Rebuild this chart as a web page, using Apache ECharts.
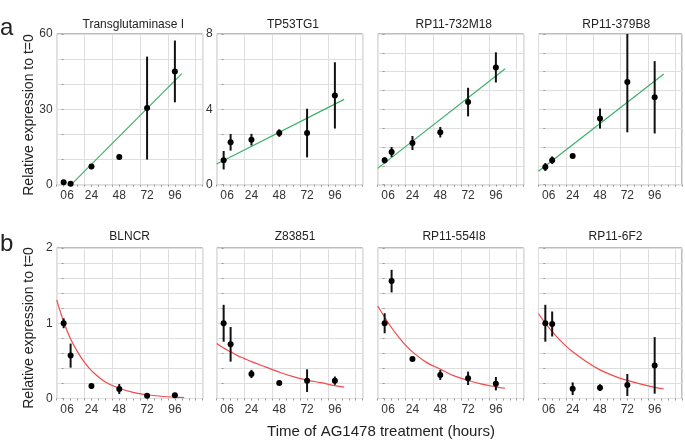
<!DOCTYPE html>
<html><head><meta charset="utf-8">
<script src="https://cdn.jsdelivr.net/npm/echarts@6/dist/echarts.min.js"></script>
<style>html,body{margin:0;padding:0;background:#fff}#c{width:685px;height:443px}</style>
</head><body><div id="c"></div>
<script>
// ---- data ----
const times = [0, 6, 24, 48, 72, 96];
const xTickLabels = [0, 6, 24, 48, 72, 96];
const panelNames = ['Transglutaminase I', 'TP53TG1', 'RP11-732M18', 'RP11-379B8', 'BLNCR', 'Z83851', 'RP11-554I8', 'RP11-6F2'];
const yMax = [60, 8, 6, 8, 2, 2, 2, 2];
const ySections = [6, 6, 8, 8, 10, 10, 10, 10];
const yTickLabels = [[0, 30, 60], [0, 4, 8], [], [], [0, 1, 2], [], [], []];

const meanTransglutaminase = [1.0, 0.4, 7.2, 11.0, 30.5, 45.1];
const errTransglutaminase = [0.4, 0.3, 1.0, 1.0, 20.5, 12.3];
const meanTP53TG1 = [1.30, 2.25, 2.39, 2.74, 2.74, 4.74];
const errTP53TG1 = [0.49, 0.44, 0.31, 0.20, 1.29, 1.76];
const meanRP11_732M18 = [0.97, 1.30, 1.66, 2.09, 3.29, 4.67];
const errRP11_732M18 = [0.12, 0.20, 0.28, 0.21, 0.57, 0.60];
const meanRP11_379B8 = [0.94, 1.30, 1.52, 3.52, 5.45, 4.64];
const errRP11_379B8 = [0.21, 0.20, 0.05, 0.53, 2.67, 1.92];

const meanBLNCR = [1.0, 0.57, 0.166, 0.126, 0.037, 0.042];
const errBLNCR = [0.066, 0.16, 0.037, 0.066, 0.033, 0.02];
const meanZ83851 = [1.0, 0.72, 0.326, 0.206, 0.237, 0.237];
const errZ83851 = [0.245, 0.23, 0.055, 0.01, 0.15, 0.055];
const meanRP11_554I8 = [1.0, 1.56, 0.525, 0.312, 0.268, 0.197];
const errRP11_554I8 = [0.133, 0.15, 0.02, 0.066, 0.089, 0.089];
const meanRP11_6F2 = [1.0, 0.99, 0.13, 0.144, 0.18, 0.44];
const errRP11_6F2 = [0.245, 0.166, 0.084, 0.044, 0.146, 0.376];

// fitted lines
const fitTransglutaminase = [[6.5, 0], [102, 44.2]];
const fitTP53TG1 = [[-6, 1.10], [104, 4.53]];
const fitRP11_732M18 = [[-6, 0.65], [104, 4.62]];
const fitRP11_379B8 = [[-6, 0.71], [104, 5.88]];
const fitTimes = [-6, 0, 6, 12, 18, 24, 36, 48, 60, 72, 84, 96, 104];
const fitBLNCR = [1.31, 1.02, 0.79, 0.62, 0.48, 0.37, 0.22, 0.136, 0.082, 0.050, 0.030, 0.018, 0.013];
const fitZ83851 = [0.73, 0.67, 0.62, 0.57, 0.53, 0.49, 0.42, 0.35, 0.29, 0.245, 0.21, 0.17, 0.15];
const fitRP11_554I8 = [1.23, 1.08, 0.94, 0.82, 0.71, 0.62, 0.48, 0.39, 0.30, 0.24, 0.19, 0.155, 0.136];
const fitRP11_6F2 = [1.13, 1.0, 0.89, 0.79, 0.70, 0.62, 0.49, 0.38, 0.30, 0.24, 0.19, 0.147, 0.126];

// ---- layout ----
const FONT = '"Liberation Sans", Arial, sans-serif';
const gridLefts = [56.7, 216.7, 377.7, 538.5];
const gridWidths = [146, 146, 146, 144];
const rowTops = [34, 248];
const rowHeights = [150.7, 150.5];
const titleCenters = [133.3, 293, 453.8, 616.2, 129.7, 295, 454, 615.5];
const titleYs = [25, 237];

const means = [meanTransglutaminase, meanTP53TG1, meanRP11_732M18, meanRP11_379B8, meanBLNCR, meanZ83851, meanRP11_554I8, meanRP11_6F2];
const errs = [errTransglutaminase, errTP53TG1, errRP11_732M18, errRP11_379B8, errBLNCR, errZ83851, errRP11_554I8, errRP11_6F2];
const fits = [
  fitTransglutaminase, fitTP53TG1, fitRP11_732M18, fitRP11_379B8,
  fitTimes.map((t, i) => [t, fitBLNCR[i]]),
  fitTimes.map((t, i) => [t, fitZ83851[i]]),
  fitTimes.map((t, i) => [t, fitRP11_554I8[i]]),
  fitTimes.map((t, i) => [t, fitRP11_6F2[i]])
];

function renderErr(params, api) {
  const x = api.value(0), lo = api.value(1), hi = api.value(2);
  const a = api.coord([x, lo]), b = api.coord([x, hi]);
  const cs = params.coordSys;
  const y1 = Math.max(Math.min(a[1], b[1]), cs.y);
  const y2 = Math.min(Math.max(a[1], b[1]), cs.y + cs.height);
  return { type: 'line', shape: { x1: a[0], y1: y1, x2: a[0], y2: y2 }, style: { stroke: '#111', lineWidth: 2 } };
}

const grids = [], xAxes = [], yAxes = [], series = [], graphics = [];
for (let p = 0; p < 8; p++) {
  const row = Math.floor(p / 4), col = p % 4;
  grids.push({ left: gridLefts[col], top: rowTops[row], width: gridWidths[col], height: rowHeights[row],
    show: true, borderColor: '#7a7a7a', borderWidth: 1, backgroundColor: 'transparent' });
  xAxes.push({
    gridIndex: p, type: 'value', min: -6, max: 120, interval: 6, position: 'bottom',
    axisLine: { show: false }, splitLine: { show: false },
    axisTick: { show: true, length: 2, lineStyle: { color: '#999' } },
    axisLabel: { margin: 5, fontSize: 12, fontFamily: FONT, color: '#333', hideOverlap: false,
      formatter: v => xTickLabels.indexOf(Math.round(v)) >= 0 && Math.abs(v - Math.round(v)) < 1e-6 ? String(Math.round(v)) : '' }
  });
  xAxes.push({
    gridIndex: p, type: 'value', min: 0, max: 126, interval: 24, position: 'top',
    axisLine: { show: false }, axisTick: { show: false }, axisLabel: { show: false },
    splitLine: { show: true, lineStyle: { color: '#dedede', width: 1 } }
  });
  const labs = yTickLabels[p];
  yAxes.push({
    gridIndex: p, type: 'value', min: 0, max: yMax[p], interval: yMax[p] / ySections[p],
    axisLine: { show: false },
    axisTick: { show: true, length: 2, lineStyle: { color: '#999' } },
    splitLine: { show: true, lineStyle: { color: '#dedede', width: 1 } },
    axisLabel: { show: labs.length > 0, margin: 4, fontSize: 12, fontFamily: FONT, color: '#333',
      formatter: v => { const m = labs.find(l => Math.abs(l - v) < 0.02); return m === undefined ? '' : String(m); } }
  });
  const lineColor = row === 0 ? '#3cb06a' : '#f24a4a';
  series.push({
    type: 'line', xAxisIndex: 2 * p, yAxisIndex: p, data: fits[p], showSymbol: false,
    smooth: row === 1 ? 0.4 : false, clip: true, z: 2, silent: true,
    lineStyle: { color: lineColor, width: 1.2 }
  });
  series.push({
    type: 'custom', xAxisIndex: 2 * p, yAxisIndex: p, z: 3, silent: true,
    data: times.map((t, i) => [t, means[p][i] - errs[p][i], means[p][i] + errs[p][i]]),
    encode: { x: 0, y: [1, 2] },
    renderItem: renderErr
  });
  series.push({
    type: 'scatter', xAxisIndex: 2 * p, yAxisIndex: p, z: 4, silent: true,
    data: times.map((t, i) => [t, means[p][i]]), symbolSize: 6,
    itemStyle: { color: '#000', opacity: 1 }
  });
  graphics.push({ type: 'text', x: titleCenters[p], y: titleYs[row],
    style: { text: panelNames[p], font: '12px ' + FONT, fill: '#222', align: 'center', verticalAlign: 'middle' } });
}
// y axis names
graphics.push({ type: 'text', x: 29, y: 115, rotation: Math.PI / 2,
  style: { text: 'Relative expression to t=0', font: '14px ' + FONT, fill: '#222', align: 'center', verticalAlign: 'middle' } });
graphics.push({ type: 'text', x: 29, y: 328, rotation: Math.PI / 2,
  style: { text: 'Relative expression to t=0', font: '14px ' + FONT, fill: '#222', align: 'center', verticalAlign: 'middle' } });
// x axis title
graphics.push({ type: 'text', x: 381, y: 432,
  style: { text: 'Time of AG1478 treatment (hours)', font: '15px ' + FONT, fill: '#222', align: 'center', verticalAlign: 'middle' } });
// panel letters
graphics.push({ type: 'text', x: 0, y: 16,
  style: { text: 'a', font: '24px ' + FONT, fill: '#222', align: 'left', verticalAlign: 'alphabetic' } });
graphics.push({ type: 'text', x: 0, y: 232,
  style: { text: 'b', font: '24px ' + FONT, fill: '#222', align: 'left', verticalAlign: 'alphabetic' } });

const chart = echarts.init(document.getElementById('c'), null, { renderer: 'canvas' });
chart.setOption({
  animation: false,
  backgroundColor: '#fff',
  grid: grids, xAxis: xAxes, yAxis: yAxes, series: series, graphic: graphics
});
</script></body></html>
